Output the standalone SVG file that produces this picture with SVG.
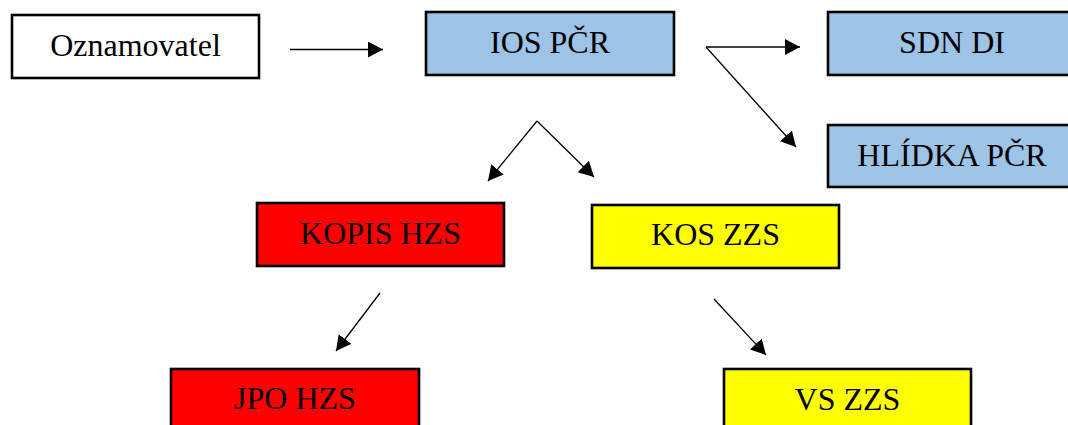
<svg xmlns="http://www.w3.org/2000/svg" width="1068" height="425" viewBox="0 0 1068 425">
  <defs>
    <marker id="arrow" markerUnits="userSpaceOnUse" markerWidth="18" markerHeight="18" refX="15" refY="8" orient="auto">
      <path d="M0,0 L15,8 L0,16 Z" fill="#000"/>
    </marker>
    <style>
      .box { stroke: #000; stroke-width: 2.6; }
      .white { fill: #fff; }
      .blue { fill: #9dc3e6; }
      .red { fill: #ff0000; }
      .yellow { fill: #ffff00; }
      .label { font-family: "Liberation Serif", "Times New Roman", serif; font-size: 32px; fill: #000; text-anchor: middle; }
      .conn line { stroke: #000; stroke-width: 1.3; marker-end: url(#arrow); }
    </style>
  </defs>
  <rect width="1068" height="425" fill="#fff"/>

  <g id="oznamovatel">
    <rect class="box white" x="12" y="15" width="247" height="63"/>
    <text class="label" x="135.5" y="56">Oznamovatel</text>
  </g>
  <g id="ios-pcr">
    <rect class="box blue" x="426" y="12" width="248" height="63"/>
    <text class="label" x="550" y="53">IOS PČR</text>
  </g>
  <g id="sdn-di">
    <rect class="box blue" x="828" y="12" width="248" height="63"/>
    <text class="label" x="952" y="53">SDN DI</text>
  </g>
  <g id="hlidka-pcr">
    <rect class="box blue" x="828" y="125" width="248" height="62"/>
    <text class="label" x="952" y="166">HLÍDKA PČR</text>
  </g>
  <g id="kopis-hzs">
    <rect class="box red" x="257" y="203" width="247" height="63"/>
    <text class="label" x="380.5" y="244">KOPIS HZS</text>
  </g>
  <g id="kos-zzs">
    <rect class="box yellow" x="592" y="205" width="247" height="63"/>
    <text class="label" x="715.5" y="245">KOS ZZS</text>
  </g>
  <g id="jpo-hzs">
    <rect class="box red" x="171" y="369" width="248" height="63"/>
    <text class="label" x="295" y="409">JPO HZS</text>
  </g>
  <g id="vs-zzs">
    <rect class="box yellow" x="724" y="369" width="247" height="63"/>
    <text class="label" x="847.5" y="410">VS ZZS</text>
  </g>

  <g id="connectors" class="conn">
    <line x1="290" y1="49.5" x2="383" y2="49.5"/>
    <line x1="706" y1="47" x2="800" y2="47"/>
    <line x1="706" y1="47" x2="796" y2="147"/>
    <line x1="537" y1="121" x2="488" y2="181"/>
    <line x1="537" y1="121" x2="594" y2="177"/>
    <line x1="380" y1="293" x2="336" y2="351"/>
    <line x1="714" y1="299" x2="766" y2="355"/>
  </g>
</svg>
